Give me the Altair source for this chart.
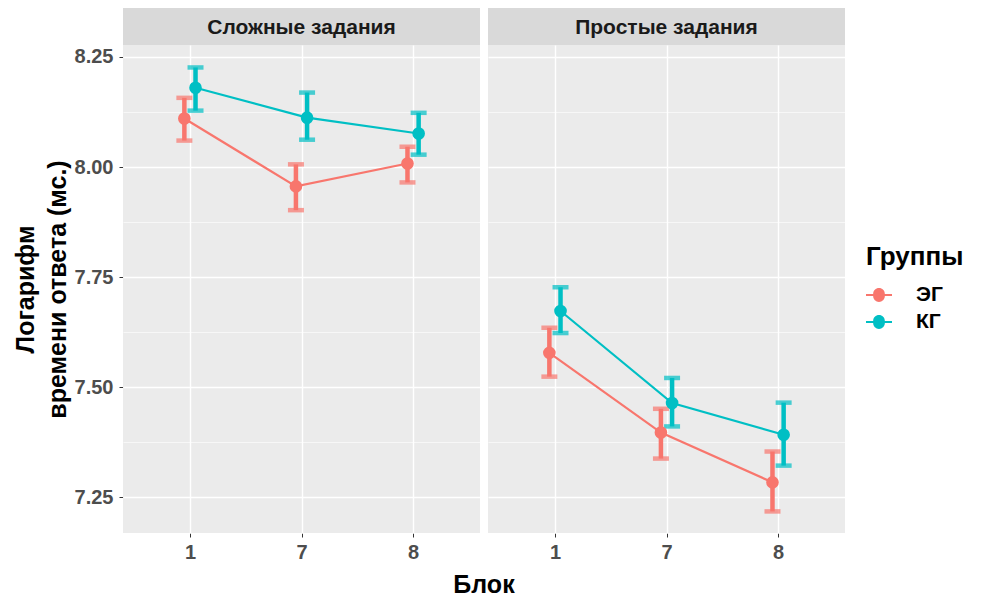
import altair as alt
import pandas as pd

PANELS = ["Сложные задания", "Простые задания"]
BLOCKS = ["1", "7", "8"]
GROUPS = ["ЭГ", "КГ"]
COLORS = ["#F8766D", "#00BFC4"]

HARD_EG_MEAN = [8.110, 7.956, 8.008]
HARD_EG_LO = [8.060, 7.902, 7.965]
HARD_EG_HI = [8.157, 8.006, 8.046]
HARD_KG_MEAN = [8.180, 8.112, 8.076]
HARD_KG_LO = [8.128, 8.062, 8.028]
HARD_KG_HI = [8.226, 8.169, 8.123]

EASY_EG_MEAN = [7.578, 7.397, 7.284]
EASY_EG_LO = [7.524, 7.338, 7.218]
EASY_EG_HI = [7.635, 7.451, 7.354]
EASY_KG_MEAN = [7.673, 7.464, 7.392]
EASY_KG_LO = [7.623, 7.411, 7.322]
EASY_KG_HI = [7.727, 7.521, 7.465]

Y_MAJOR = [7.25, 7.50, 7.75, 8.00, 8.25]
Y_MINOR = [7.375, 7.625, 7.875, 8.125]

rows = []
series = [
    (PANELS[0], GROUPS[0], HARD_EG_MEAN, HARD_EG_LO, HARD_EG_HI),
    (PANELS[0], GROUPS[1], HARD_KG_MEAN, HARD_KG_LO, HARD_KG_HI),
    (PANELS[1], GROUPS[0], EASY_EG_MEAN, EASY_EG_LO, EASY_EG_HI),
    (PANELS[1], GROUPS[1], EASY_KG_MEAN, EASY_KG_LO, EASY_KG_HI),
]
for panel, group, m, lo, hi in series:
    for b, mv, lv, hv in zip(BLOCKS, m, lo, hi):
        rows.append({"panel": panel, "group": group, "block": b,
                     "mean": mv, "lo": lv, "hi": hv})
df = pd.DataFrame(rows)

FONT = "Liberation Sans"
blocks_js = "[" + ",".join("'%s'" % b for b in BLOCKS) + "]"
groups_js = "[" + ",".join("'%s'" % g for g in GROUPS) + "]"

is_major = "abs(datum.value*4 - round(datum.value*4)) < 0.01"

color = alt.Color("group:N", scale=alt.Scale(domain=GROUPS, range=COLORS),
                  legend=alt.Legend(title="Группы"))

xenc = alt.X("xpos:Q",
             scale=alt.Scale(domain=[-0.6, 2.6], nice=False, zero=False),
             axis=alt.Axis(values=[0, 1, 2], labelExpr=blocks_js + "[datum.value]",
                           title=None, gridColor="white", gridWidth=1.4,
                           tickSize=4, tickColor="#333333", domain=False,
                           labelPadding=5))
yscale = alt.Scale(domain=[7.169, 8.277], nice=False, zero=False)
yaxis = alt.Axis(values=sorted(Y_MAJOR + Y_MINOR),
                 labelExpr="(" + is_major + ") ? format(datum.value, '.2f') : ''",
                 title=["Логарифм", "времени ответа (мс.)"],
                 titleFontSize=25, titleFont=FONT, titleFontWeight="bold",
                 titleColor="black", titlePadding=4, titleLineHeight=32,
                 gridColor="white",
                 gridWidth={"condition": {"test": is_major, "value": 1.4}, "value": 0.6},
                 tickColor={"condition": {"test": is_major, "value": "#333333"},
                            "value": "transparent"},
                 tickSize=4, domain=False, labelPadding=6)

base = alt.Chart(df).transform_calculate(
    xpos="indexof(" + blocks_js + ", datum.block) + (indexof(" + groups_js +
         ", datum.group) == 0 ? -0.05 : 0.05)"
)

line = base.mark_line(strokeWidth=2.2).encode(
    x=xenc, y=alt.Y("mean:Q", scale=yscale, axis=yaxis), color=color,
    detail="group:N")
rule = base.mark_rule(strokeWidth=4.5).encode(
    x="xpos:Q", y="lo:Q", y2="hi:Q", color=alt.Color("group:N", legend=None))
cap_lo = base.mark_tick(orient="horizontal", size=16, thickness=4.5).encode(
    x="xpos:Q", y="lo:Q", color=alt.Color("group:N", legend=None))
cap_hi = base.mark_tick(orient="horizontal", size=16, thickness=4.5).encode(
    x="xpos:Q", y="hi:Q", color=alt.Color("group:N", legend=None))
pts = base.mark_point(filled=True, size=160, opacity=1).encode(
    x="xpos:Q", y="mean:Q", color=alt.Color("group:N", legend=None))

PW, PH, SH = 357, 488, 37

plots = alt.layer(line, rule, cap_lo, cap_hi, pts).properties(
    width=PW, height=PH, view=alt.ViewBackground(fill="#EBEBEB", stroke=None)
).facet(
    column=alt.Column("panel:N", sort=PANELS, title="Блок",
                      header=alt.Header(labels=False, titleOrient="bottom",
                                        titleFontSize=25, titleFont=FONT,
                                        titleFontWeight="bold", titleColor="black",
                                        titlePadding=1)),
    spacing=8,
)

strip_df = pd.DataFrame({"panel": PANELS})
strip_charts = []
for p in PANELS:
    strip_charts.append(
        alt.Chart(strip_df).transform_filter(alt.datum.panel == p).mark_text(
            font=FONT, fontSize=21, fontWeight="bold", color="#1A1A1A",
            baseline="middle", dy=1
        ).encode(text="panel:N").properties(
            width=PW, height=SH,
            view=alt.ViewBackground(fill="#D9D9D9", stroke=None))
    )
strips = alt.hconcat(*strip_charts, spacing=8)

SYM = ("M -1 -0.08 L -0.45 -0.08 A 0.45 0.45 0 0 1 0.45 -0.08 L 1 -0.08 "
       "L 1 0.08 L 0.45 0.08 A 0.45 0.45 0 0 1 -0.45 0.08 L -1 0.08 Z")

chart = alt.vconcat(strips, plots, spacing=0).configure(
    padding={"left": 5, "top": 0, "right": 0, "bottom": 0},
    font=FONT,
).configure_view(stroke=None).configure_axis(
    labelFont=FONT, labelFontSize=20, labelFontWeight="bold", labelColor="#4D4D4D",
).configure_legend(
    orient="none", legendX=743, legendY=236, padding=0,
    titleFont=FONT, titleFontSize=26, titleFontWeight="bold", titleColor="black",
    labelFont=FONT, labelFontSize=21, labelFontWeight="bold", labelColor="black",
    symbolType=SYM, symbolSize=676, symbolStrokeWidth=0, symbolOpacity=1,
    rowPadding=4, titlePadding=12, labelOffset=24,
)

chart.save("out.html", embed_options={"renderer": "svg", "actions": False})
